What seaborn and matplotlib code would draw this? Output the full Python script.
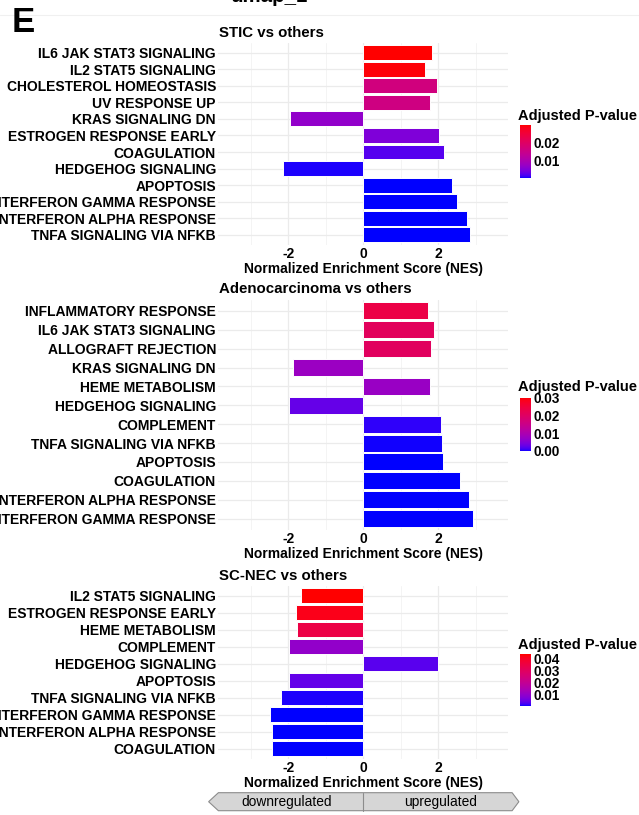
import numpy as np
import pandas as pd
import matplotlib
matplotlib.use("Agg")
import matplotlib.pyplot as plt
from matplotlib.colors import ListedColormap, Normalize
from matplotlib.cm import ScalarMappable
from matplotlib.patches import Polygon
import seaborn as sns

# ---------------- data ----------------
stic_pathways = [
    "IL6 JAK STAT3 SIGNALING", "IL2 STAT5 SIGNALING", "CHOLESTEROL HOMEOSTASIS",
    "UV RESPONSE UP", "KRAS SIGNALING DN", "ESTROGEN RESPONSE EARLY", "COAGULATION",
    "HEDGEHOG SIGNALING", "APOPTOSIS", "INTERFERON GAMMA RESPONSE",
    "INTERFERON ALPHA RESPONSE", "TNFA SIGNALING VIA NFKB",
]
stic_nes = [1.83, 1.65, 1.98, 1.77, -1.96, 2.01, 2.16, -2.14, 2.38, 2.50, 2.77, 2.86]
stic_padj = [0.0294, 0.0290, 0.0164, 0.0159, 0.0069, 0.0052, 0.0026, 0.0009,
             0.0006, 0.0006, 0.0006, 0.0006]

adeno_pathways = [
    "INFLAMMATORY RESPONSE", "IL6 JAK STAT3 SIGNALING", "ALLOGRAFT REJECTION",
    "KRAS SIGNALING DN", "HEME METABOLISM", "HEDGEHOG SIGNALING", "COMPLEMENT",
    "TNFA SIGNALING VIA NFKB", "APOPTOSIS", "COAGULATION",
    "INTERFERON ALPHA RESPONSE", "INTERFERON GAMMA RESPONSE",
]
adeno_nes = [1.74, 1.90, 1.81, -1.88, 1.78, -1.97, 2.07, 2.10, 2.13, 2.58, 2.81, 2.92]
adeno_padj = [0.0237, 0.0209, 0.0206, 0.0075, 0.0073, 0.0029, 0.0007, 0.0002,
              0.0001, 0.0000, 0.0000, 0.0000]

scnec_pathways = [
    "IL2 STAT5 SIGNALING", "ESTROGEN RESPONSE EARLY", "HEME METABOLISM", "COMPLEMENT",
    "HEDGEHOG SIGNALING", "APOPTOSIS", "TNFA SIGNALING VIA NFKB",
    "INTERFERON GAMMA RESPONSE", "INTERFERON ALPHA RESPONSE", "COAGULATION",
]
scnec_nes = [-1.66, -1.78, -1.76, -1.98, 1.99, -1.98, -2.19, -2.48, -2.42, -2.44]
scnec_padj = [0.0440, 0.0418, 0.0348, 0.0097, 0.0031, 0.0040, 0.0005, 0.0000,
              0.0000, 0.0000]

panel_titles = ["STIC vs others", "Adenocarcinoma vs others", "SC-NEC vs others"]
legend_ticks = [[0.01, 0.02], [0.00, 0.01, 0.02, 0.03], [0.01, 0.02, 0.03, 0.04]]
legend_limits = [(0.0006, 0.0294), (0.0, 0.0300), (0.0, 0.0440)]
nes_ticks = [-2, 0, 2]
nes_minor = [-3, -1, 1, 3]
direction_labels = ["downregulated", "upregulated"]

# ---------------- colour scale (blue -> red, interpolated in CIE Lab) ----------------
_M = np.array([[0.4124564, 0.3575761, 0.1804375],
               [0.2126729, 0.7151522, 0.0721750],
               [0.0193339, 0.1191920, 0.9503041]])
_WHITE = np.array([0.95047, 1.0, 1.08883])
_D = 6 / 29


def _to_lab(rgb):
    c = np.asarray(rgb, float)
    lin = np.where(c <= 0.04045, c / 12.92, ((c + 0.055) / 1.055) ** 2.4)
    xyz = _M @ lin / _WHITE
    f = np.where(xyz > _D ** 3, np.cbrt(xyz), xyz / (3 * _D ** 2) + 4 / 29)
    return np.array([116 * f[1] - 16, 500 * (f[0] - f[1]), 200 * (f[1] - f[2])])


def _from_lab(lab):
    L, a, b = lab
    fy_ = (L + 16) / 116
    f = np.array([fy_ + a / 500, fy_, fy_ - b / 200])
    xyz = np.where(f > _D, f ** 3, 3 * _D ** 2 * (f - 4 / 29)) * _WHITE
    lin = np.linalg.solve(_M, xyz)
    lin = np.clip(lin, 0, 1)
    c = np.where(lin <= 0.0031308, 12.92 * lin, 1.055 * lin ** (1 / 2.4) - 0.055)
    return np.clip(c, 0, 1)


def lab_gradient(low, high, n=256):
    l0, l1 = _to_lab(low), _to_lab(high)
    return ListedColormap([_from_lab(l0 + t * (l1 - l0)) for t in np.linspace(0, 1, n)])


cmap = lab_gradient((0, 0, 1), (1, 0, 0))

# ---------------- figure ----------------
sns.set_theme(style="white")
plt.rcParams["font.family"] = ["Liberation Sans", "DejaVu Sans"]
plt.rcParams["text.color"] = "black"
plt.rcParams["axes.labelcolor"] = "black"

W, H = 639, 815
fig = plt.figure(figsize=(W / 100, H / 100), dpi=100)


def rect(left, top, right, bottom):
    return [left / W, 1 - bottom / H, (right - left) / W, (bottom - top) / H]


def fx(x):
    return x / W


def fy(y):
    return 1 - y / H


XLIM = (-3.87, 3.86)
panels = [
    (stic_pathways, stic_nes, stic_padj, (42.8, 244.7)),
    (adeno_pathways, adeno_nes, adeno_padj, (299.5, 530.0)),
    (scnec_pathways, scnec_nes, scnec_padj, (585.6, 758.7)),
]
legend_boxes = [(116, 125, 178), (387, 397.7, 451), (645, 654.3, 706)]
L_PX, R_PX = 218, 508

for i, (paths, nes, padj, (top, bottom)) in enumerate(panels):
    ax = fig.add_axes(rect(L_PX, top, R_PX, bottom))
    df = pd.DataFrame({"pathway": paths, "NES": nes, "padj": padj})
    norm = Normalize(*legend_limits[i])
    colors = {p: cmap(norm(v)) for p, v in zip(df["pathway"], df["padj"])}
    sns.barplot(data=df, x="NES", y="pathway", hue="pathway", palette=colors,
                order=paths, hue_order=paths, orient="h", width=0.9, saturation=1,
                edgecolor="white", linewidth=0.7, legend=False, ax=ax, zorder=3)
    n = len(paths)
    ax.set_ylim(n - 1 + 0.6, -0.6)
    ax.set_xlim(*XLIM)
    ax.set_xticks(nes_ticks)
    ax.set_xticks(nes_minor, minor=True)
    ax.set_xticklabels([str(t) for t in nes_ticks])
    ax.grid(True, which="major", axis="both", color="#ebebeb", lw=0.9)
    ax.grid(True, which="minor", axis="x", color="#f2f2f2", lw=0.6)
    ax.set_axisbelow(True)
    for s in ax.spines.values():
        s.set_visible(False)
    ax.tick_params(axis="both", which="both", length=0, pad=1.5,
                   labelsize=10.0, labelcolor="black")
    for lab in ax.get_yticklabels() + ax.get_xticklabels():
        lab.set_fontweight("bold")
    ax.set_xlabel("")
    ax.set_ylabel("")
    ax.patch.set_alpha(0)

    # panel title and axis title
    fig.text(fx(219), fy(top - 6), panel_titles[i], fontsize=10.8,
             fontweight="bold", ha="left", va="baseline")
    fig.text(fx((L_PX + R_PX) / 2), fy(bottom + 24), "Normalized Enrichment Score (NES)",
             fontsize=10, fontweight="bold", ha="center", va="center")

    # colour bar legend
    ty, bt, bb = legend_boxes[i]
    fig.text(fx(518), fy(ty), "Adjusted P-value", fontsize=10.5,
             fontweight="bold", ha="left", va="center")
    cax = fig.add_axes(rect(520, bt, 530.5, bb))
    sm = ScalarMappable(norm=norm, cmap=cmap)
    cb = fig.colorbar(sm, cax=cax, ticks=legend_ticks[i])
    cb.outline.set_visible(False)
    cb.ax.set_yticklabels([f"{t:.2f}" for t in legend_ticks[i]])
    cb.ax.tick_params(length=2.5, width=0.6, color="white", pad=2, labelsize=9.8,
                      direction="in", labelcolor="black")
    for lab in cb.ax.get_yticklabels():
        lab.set_fontweight("bold")

# direction band below the last panel
bax = fig.add_axes(rect(L_PX, 792.7, R_PX, 810.7))
bax.set_xlim(*XLIM)
bax.set_ylim(0, 1)
bax.axis("off")
band = Polygon([[-4.12, 0.5], [-3.86, 1], [3.97, 1], [4.15, 0.5], [3.97, 0], [-3.86, 0]],
               closed=True, facecolor="#d6d6d6", edgecolor="#8c8c8c", lw=0.8, clip_on=False)
bax.add_patch(band)
bax.plot([0, 0], [0, 1], color="#8c8c8c", lw=0.8, clip_on=False)
bax.text(-2.03, 0.5, direction_labels[0], ha="center", va="center", fontsize=9.9,
         color="black")
bax.text(2.05, 0.5, direction_labels[1], ha="center", va="center", fontsize=9.9,
         color="black")

# panel letter and the cut-off heading of the figure above
fig.text(fx(12), fy(32), "E", fontsize=25, fontweight="bold", ha="left", va="baseline")
fig.text(fx(269), fy(2.5), "umap_1", fontsize=14.8, fontweight="bold", ha="center",
         va="baseline")
fig.add_artist(plt.Line2D([0, 1], [fy(15), fy(15)], color="#f0f0f0", lw=0.8))

fig.savefig("out.png", dpi=100)
